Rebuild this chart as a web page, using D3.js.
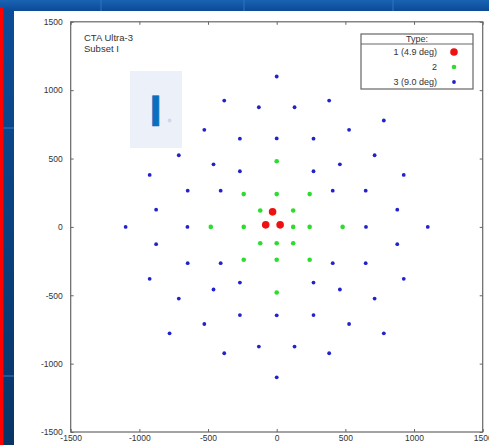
<!DOCTYPE html>
<html>
<head>
<meta charset="utf-8">
<script src="https://cdn.jsdelivr.net/npm/d3@7"></script>
<style>
  html, body { margin: 0; padding: 0; background: #fff; }
  svg { display: block; }
  text { font-family: "Liberation Sans", Arial, sans-serif; }
</style>
</head>
<body>
<svg id="chart" width="489" height="445"></svg>
<script>
// Telescope positions (metres) for the CTA Ultra-3 layout, subset I
const type1 = [[-30, 110], [-80, 15], [25, 15]];
const type2 = [
  [0, 480], [-240, 240], [0, 240], [240, 240], [-120, 120], [120, 120],
  [-480, 0], [-240, 0], [120, 0], [240, 0], [480, 0],
  [-120, -120], [0, -120], [120, -120],
  [-240, -240], [0, -240], [240, -240], [0, -480]
];
const type3Upper = [
  [0, 1100], [-382, 924], [382, 924], [-130, 875], [130, 875],
  [-780, 778], [780, 778], [-527, 710], [527, 710],
  [-268, 645], [0, 647], [268, 645], [-713, 524], [713, 524],
  [-460, 458], [460, 458], [-268, 407], [268, 407],
  [-925, 380], [925, 380], [-648, 265], [-408, 265], [408, 265], [648, 265],
  [-878, 126], [878, 126]
];
const type3Middle = [[-1100, 0], [-650, 0], [650, 0], [1100, 0]];
const type3Lower = [
  [-878, -126], [878, -126], [-648, -265], [-408, -265], [408, -265], [648, -265],
  [-925, -380], [925, -380], [-268, -407], [268, -407], [-460, -458], [460, -458],
  [-713, -524], [713, -524], [-268, -645], [0, -647], [268, -645],
  [-527, -710], [527, -710], [-780, -778], [780, -778],
  [-130, -875], [130, -875], [-382, -924], [382, -924], [0, -1100]
];
const type3 = type3Upper.concat(type3Middle, type3Lower);

const legendTitle = "Type:";
const legendLabels = ["1 (4.9 deg)", "2", "3 (9.0 deg)"];
const xTicks = [-1500, -1000, -500, 0, 500, 1000, 1500];
const yTicks = [-1500, -1000, -500, 0, 500, 1000, 1500];
const titleLines = ["CTA Ultra-3", "Subset I"];
const subsetMark = "I";

const svg = d3.select("#chart");
const W = 489, H = 445;

// ---- slide backdrop ----
const defs = svg.append("defs");
const gTop = defs.append("linearGradient").attr("id", "barTop").attr("x1", 0).attr("y1", 0).attr("x2", 0).attr("y2", 1);
gTop.append("stop").attr("offset", 0).attr("stop-color", "#1a63b3");
gTop.append("stop").attr("offset", 1).attr("stop-color", "#0b4a96");
const gSide = defs.append("linearGradient").attr("id", "barSide").attr("x1", 0).attr("y1", 0).attr("x2", 0).attr("y2", 1);
gSide.append("stop").attr("offset", 0).attr("stop-color", "#0b4d9a");
gSide.append("stop").attr("offset", 1).attr("stop-color", "#083566");

svg.append("rect").attr("x", 0).attr("y", 0).attr("width", W).attr("height", H).attr("fill", "url(#barSide)");
svg.append("rect").attr("x", 0).attr("y", 0).attr("width", W).attr("height", 11).attr("fill", "url(#barTop)");
[100, 243, 392].forEach(x => {
  svg.append("rect").attr("x", x).attr("y", 0).attr("width", 2).attr("height", 11).attr("fill", "#2a6fbd").attr("opacity", 0.6);
});
[127, 375].forEach(y => {
  svg.append("rect").attr("x", 3).attr("y", y).attr("width", 11).attr("height", 2).attr("fill", "#2a6fbd").attr("opacity", 0.6);
});
svg.append("rect").attr("x", 0).attr("y", 7).attr("width", 3.5).attr("height", H - 7).attr("fill", "#ff0000");
svg.append("rect").attr("x", 14).attr("y", 11).attr("width", W - 14).attr("height", H - 11).attr("fill", "#ffffff");

// ---- plot ----
const x = d3.scaleLinear().domain([-1500, 1500]).range([70.7, 482.7]);
const y = d3.scaleLinear().domain([-1500, 1500]).range([432, 21.8]);
const frameColor = "#666";
const textColor = "#333";
const plainNumber = d => String(d);

const plot = svg.append("g");

function styleAxis(g) {
  g.select(".domain").remove();
  g.selectAll(".tick line").attr("stroke", frameColor);
  g.selectAll(".tick text").attr("fill", textColor).attr("font-size", 8.5)
    .attr("font-family", "Liberation Sans, Arial, sans-serif");
}

plot.append("g").attr("transform", `translate(${x(-1500)},0)`)
  .call(d3.axisLeft(y).tickValues(yTicks).tickFormat(plainNumber).tickSizeInner(-3).tickSizeOuter(0).tickPadding(8))
  .call(styleAxis);
plot.append("g").attr("transform", `translate(${x(1500)},0)`)
  .call(d3.axisRight(y).tickValues(yTicks).tickFormat("").tickSizeInner(-3).tickSizeOuter(0))
  .call(styleAxis);
plot.append("g").attr("transform", `translate(0,${y(-1500)})`)
  .call(d3.axisBottom(x).tickValues(xTicks).tickFormat(plainNumber).tickSizeInner(-3).tickSizeOuter(0).tickPadding(3))
  .call(styleAxis);
plot.append("g").attr("transform", `translate(0,${y(1500)})`)
  .call(d3.axisTop(x).tickValues(xTicks).tickFormat("").tickSizeInner(-3).tickSizeOuter(0))
  .call(styleAxis);

plot.append("rect")
  .attr("x", x(-1500)).attr("y", y(1500))
  .attr("width", x(1500) - x(-1500)).attr("height", y(-1500) - y(1500))
  .attr("fill", "none").attr("stroke", frameColor).attr("stroke-width", 1.2);

// title
plot.selectAll("text.title").data(titleLines).join("text")
  .attr("class", "title")
  .attr("x", 84).attr("y", (d, i) => 40.5 + i * 11)
  .attr("font-size", 9.5).attr("fill", textColor)
  .text(d => d);

// points
const series = [
  { data: type3, r: 1.9, color: "#2222cc" },
  { data: type2, r: 2.3, color: "#2ddd2d" },
  { data: type1, r: 3.8, color: "#ee1111" }
];
series.forEach(s => {
  plot.append("g").selectAll("circle").data(s.data).join("circle")
    .attr("cx", d => x(d[0])).attr("cy", d => y(d[1]))
    .attr("r", s.r).attr("fill", s.color);
});

// legend
const lg = plot.append("g");
lg.append("rect").attr("x", 361).attr("y", 34).attr("width", 112).attr("height", 55)
  .attr("fill", "#fff").attr("stroke", frameColor).attr("stroke-width", 1.2);
lg.append("line").attr("x1", 361).attr("x2", 473).attr("y1", 44).attr("y2", 44)
  .attr("stroke", frameColor).attr("stroke-width", 1);
lg.append("text").attr("x", 417).attr("y", 42).attr("text-anchor", "middle")
  .attr("font-size", 9).attr("fill", textColor).text(legendTitle);
lg.selectAll("text.item").data(legendLabels).join("text")
  .attr("class", "item")
  .attr("x", 437).attr("y", (d, i) => 55 + i * 15)
  .attr("text-anchor", "end").attr("font-size", 9).attr("fill", textColor)
  .text(d => d);
const legendSeries = [series[2], series[1], series[0]];
lg.selectAll("circle").data(legendSeries).join("circle")
  .attr("cx", 454).attr("cy", (d, i) => 52 + i * 15)
  .attr("r", d => d.r).attr("fill", d => d.color);

// subset badge
const badge = svg.append("g");
badge.append("rect").attr("x", 130).attr("y", 71).attr("width", 52).attr("height", 77)
  .attr("fill", "#e9eef7").attr("opacity", 0.88);
badge.append("text").attr("x", 155.5).attr("y", 125.5).attr("text-anchor", "middle")
  .attr("font-size", 44).attr("font-weight", "bold")
  .attr("fill", "#0b6ebf").attr("stroke", "#0b6ebf").attr("stroke-width", 0.6)
  .style("text-rendering", "geometricPrecision")
  .text(subsetMark);
</script>
</body>
</html>
